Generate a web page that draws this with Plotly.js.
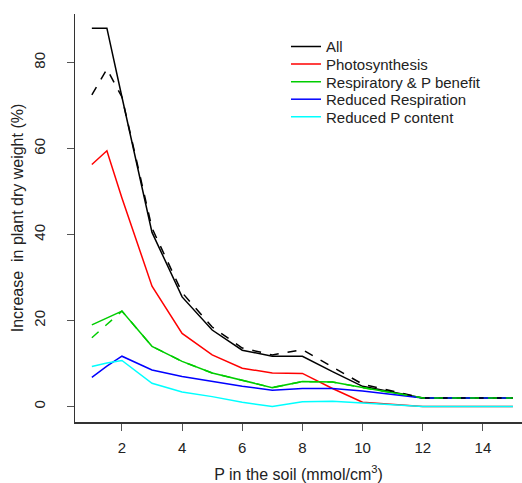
<!DOCTYPE html>
<html>
<head>
<meta charset="utf-8">
<script src="https://cdn.plot.ly/plotly-3.0.1.min.js"></script>
<style>html,body{margin:0;padding:0;background:#fff;}#chart{width:522px;height:483px;}</style>
</head>
<body>
<div id="chart"></div>
<script>
var pSoil = [1, 1.5, 2, 3, 4, 5, 6, 7, 8, 9, 10, 12, 15];
var allSolid = [88, 88, 72, 40.5, 25.5, 17.8, 13.1, 11.7, 11.7, 8.1, 4.7, 2, 2];
var allDashed = [72.5, 78.5, 72, 41.5, 26.5, 18.5, 13.6, 12, 13.2, 9.2, 5.2, 2, 2];
var photosynthesis = [56.3, 59.5, 48.5, 28, 17, 12, 8.9, 7.8, 7.7, 4.2, 1, 0, 0];
var respBenefit = [19, 20.6, 22.2, 14, 10.5, 7.8, 6.1, 4.4, 5.8, 5.7, 4.4, 2, 2];
var respBenefitDashed = [16, 19, 22.2, 14, 10.5, 7.8, 6.1, 4.4, 5.8, 5.7, 4.4, 2, 2];
var reducedResp = [6.8, 9.4, 11.7, 8.5, 7, 5.8, 4.7, 3.8, 4.2, 4.2, 3.6, 2, 2];
var reducedP = [9.3, 10.1, 10.7, 5.4, 3.4, 2.3, 1, 0, 1.1, 1.2, 0.8, 0, 0];
var seriesNames = ["All", "Photosynthesis", "Respiratory & P benefit", "Reduced Respiration", "Reduced P content"];
var xTicks = [2, 4, 6, 8, 10, 12, 14];
var yTicks = [0, 20, 40, 60, 80];

var lw = 1.5;
var legendIds = ["legend", "legend2", "legend3", "legend4", "legend5"];
var traces = [
  {x: pSoil, y: allSolid, name: seriesNames[0], legend: legendIds[0], line: {color: "black", width: lw}},
  {x: pSoil, y: photosynthesis, name: seriesNames[1], legend: legendIds[1], line: {color: "red", width: lw}},
  {x: pSoil, y: respBenefit, name: seriesNames[2], legend: legendIds[2], line: {color: "#00CD00", width: lw}},
  {x: pSoil, y: reducedResp, name: seriesNames[3], legend: legendIds[3], line: {color: "blue", width: lw}},
  {x: pSoil, y: reducedP, name: seriesNames[4], legend: legendIds[4], line: {color: "cyan", width: lw}},
  {x: pSoil, y: allDashed, showlegend: false, line: {color: "black", width: lw, dash: "dash"}},
  {x: pSoil, y: respBenefitDashed, showlegend: false, line: {color: "#00CD00", width: lw, dash: "dash"}}
];
traces.forEach(function(t){ t.type = "scatter"; t.mode = "lines"; t.hoverinfo = "skip"; });

var font = "Liberation Sans, Arial, sans-serif";
var layout = {
  width: 522, height: 483,
  margin: {l: 75, r: 0, t: 14, b: 61},
  paper_bgcolor: "white", plot_bgcolor: "white",
  font: {family: font, size: 15, color: "#222"},
  showlegend: true,
  xaxis: {
    range: [0.44, 15.3], tickvals: xTicks, ticktext: xTicks.map(String),
    showgrid: false, zeroline: false, showline: true, linecolor: "#333", linewidth: 1.5,
    ticks: "outside", ticklen: 7, tickcolor: "#555", tickwidth: 1,
    tickfont: {family: font, size: 15, color: "#222"}, ticklabelstandoff: 4,
    title: {text: "P in the soil (mmol/cm<sup>3</sup>)", font: {family: font, size: 16, color: "#222"}, standoff: 18}
  },
  yaxis: {
    range: [-3.6, 91.3], tickvals: yTicks, ticktext: yTicks.map(String), tickangle: -90,
    showgrid: false, zeroline: false, showline: true, linecolor: "#333", linewidth: 1.5,
    ticks: "outside", ticklen: 7, tickcolor: "#555", tickwidth: 1,
    tickfont: {family: font, size: 15, color: "#222"}, ticklabelstandoff: 16,
    title: {text: "Increase\u00a0 in plant dry weight (%)", font: {family: font, size: 16, color: "#222"}, standoff: 3}
  }
};
var legendTops = [0.960, 0.917, 0.874, 0.831, 0.788];
legendIds.forEach(function(id, i){
  layout[id] = {x: 0.472, y: legendTops[i], xanchor: "left", yanchor: "top", bgcolor: "rgba(0,0,0,0)",
                font: {family: font, size: 15, color: "#222"}};
});
Plotly.newPlot("chart", traces, layout, {staticPlot: true, displayModeBar: false});
</script>
</body>
</html>
